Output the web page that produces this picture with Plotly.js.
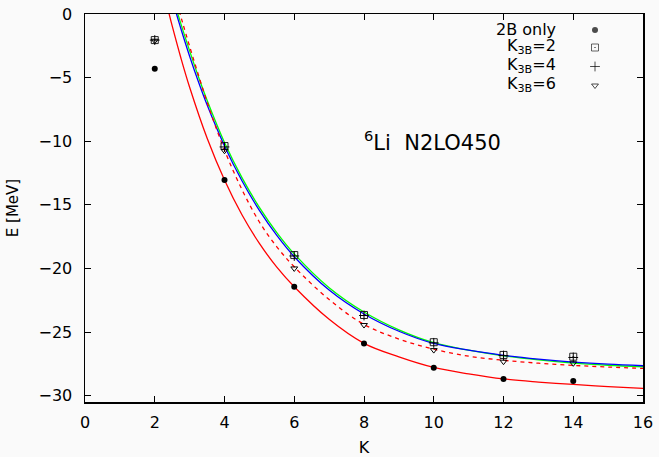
<!DOCTYPE html>
<html>
<head>
<meta charset="utf-8">
<script src="https://cdn.plot.ly/plotly-3.0.1.min.js"></script>
<style>
  html, body { margin: 0; padding: 0; background: #fafafa; }
  #chart { width: 659px; height: 457px; }
</style>
</head>
<body>
<div id="chart"></div>
<script>
// Hyperspherical-harmonics convergence of the 6Li ground-state energy (N2LO450)
const K_VALUES = [2, 4, 6, 8, 10, 12, 14];

// Computed energies [MeV]
const E_2B_ONLY = [-4.3, -13.05, -21.45, -25.9, -27.8, -28.7, -28.85];
const E_K3B_2   = [-2.05, -10.38, -18.95, -23.66, -25.8, -26.8, -26.94];
const E_K3B_4   = [-2.05, -10.45, -19.02, -23.7, -25.85, -26.85, -27.0];
const E_K3B_6   = [-2.1, -10.75, -20.0, -24.45, -26.42, -27.33, -27.46];

// Extrapolation curves, sampled along K
const FIT_2B_K = [2.4, 2.5, 2.75, 3, 3.5, 4, 4.5, 5, 5.5, 6, 7, 8, 9, 10, 11, 12, 13, 14, 15, 16];
const FIT_2B_E = [0.14, -0.94, -3.46, -5.76, -9.75, -13.05, -15.78, -18.03, -19.9, -21.44,
                  -24.0, -25.89, -26.95, -27.78, -28.29, -28.69, -28.93, -29.12, -29.29, -29.43];

const FIT_K3B2_K = [2.6, 2.75, 3, 3.25, 3.5, 4, 4.5, 5, 5.5, 6, 7, 8, 9, 10, 11, 12, 13, 14, 15, 16];
const FIT_K3B2_E = [0.22, -1.16, -3.32, -5.31, -7.14, -10.37, -13.11, -15.44, -17.41, -19.08,
                    -21.7, -23.58, -24.94, -25.9, -26.43, -26.83, -27.13, -27.36, -27.53, -27.65];

const FIT_K3B4_K = [2.6, 2.75, 3, 3.25, 3.5, 4, 4.5, 5, 5.5, 6, 7, 8, 9, 10, 11, 12, 13, 14, 15, 16];
const FIT_K3B4_E = [0.6, -0.78, -2.9, -4.92, -6.78, -10.1, -12.86, -15.2, -17.18, -18.86,
                    -21.52, -23.43, -24.83, -25.84, -26.43, -26.87, -27.19, -27.44, -27.61, -27.73];

const FIT_K3B6_K = [2.7, 2.8, 3, 3.35, 3.5, 4, 4.5, 5, 5.5, 6, 7, 8, 9, 10, 11, 12, 13, 14, 15, 16];
const FIT_K3B6_E = [0.25, -0.7, -2.55, -5.65, -6.92, -10.7, -13.8, -16.35, -18.3, -19.87,
                    -22.45, -24.4, -25.55, -26.35, -26.9, -27.22, -27.45, -27.62, -27.75, -27.86];

const SERIES_LABELS = ['2B only', 'K<sub>3B</sub>=2', 'K<sub>3B</sub>=4', 'K<sub>3B</sub>=6'];
const X_TICKS = [0, 2, 4, 6, 8, 10, 12, 14, 16];
const Y_TICKS = [-30, -25, -20, -15, -10, -5, 0];

const FONT = 'DejaVu Sans, sans-serif';
const INK = '#000000';

// Symbol styles per series
const SYMBOLS = [
  { symbol: 'circle', size: 6, color: INK, line: { width: 0 } },
  { symbol: 'square-open-dot', size: 7, color: '#222', line: { width: 1, color: '#222' } },
  { symbol: 'cross-thin-open', size: 7, color: INK, line: { width: 1, color: INK } },
  { symbol: 'triangle-down-open', size: 6, color: INK, line: { width: 1, color: INK } }
];

function fitLine(xs, ys, color, dash) {
  return {
    x: xs, y: ys, type: 'scatter', mode: 'lines', showlegend: false, hoverinfo: 'skip',
    line: { color: color, width: 1.3, dash: dash || 'solid', shape: 'spline', smoothing: 1 }
  };
}

function points(ys, i) {
  return {
    x: K_VALUES, y: ys, type: 'scatter', mode: 'markers', showlegend: false,
    marker: SYMBOLS[i], cliponaxis: false
  };
}

// Key block: labels right-aligned, symbol to the right (pixel frame of the plot area)
const KEY_TEXT_X = 558;
const KEY_SYMBOL_X = 595;
const KEY_ROWS_Y = [30, 47.5, 66.5, 85.5];
const KEY_TEXT_Y = [29.5, 46.5, 65.5, 84.5];

const traces = [
  fitLine(FIT_2B_K, FIT_2B_E, '#ff0000'),
  fitLine(FIT_K3B4_K, FIT_K3B4_E, '#00ff00'),
  fitLine(FIT_K3B2_K, FIT_K3B2_E, '#0000ff'),
  fitLine(FIT_K3B6_K, FIT_K3B6_E, '#ff0000', '4px,4px'),
  points(E_2B_ONLY, 0),
  points(E_K3B_2, 1),
  points(E_K3B_4, 2),
  points(E_K3B_6, 3),
  {
    x: SERIES_LABELS.map(() => KEY_SYMBOL_X), y: KEY_ROWS_Y,
    xaxis: 'x2', yaxis: 'y2', type: 'scatter', mode: 'markers', showlegend: false,
    marker: {
      symbol: SYMBOLS.map(s => s.symbol),
      size: SYMBOLS.map(s => s.size),
      color: SYMBOLS.map(s => s.color),
      line: { width: [0, 1, 1, 1], color: SYMBOLS.map(s => s.color) }
    }
  }
];

const axisCommon = {
  showline: true, linecolor: INK, linewidth: 1.5, mirror: 'ticks',
  ticks: 'inside', ticklen: 6, tickwidth: 1, tickcolor: INK,
  showgrid: false, zeroline: false,
  tickfont: { family: FONT, size: 16, color: INK }
};

const annotations = SERIES_LABELS.map((t, i) => ({
  text: t, xref: 'x2', yref: 'y2', x: KEY_TEXT_X, y: KEY_TEXT_Y[i],
  xanchor: 'right', yanchor: 'middle', showarrow: false,
  font: { family: FONT, size: 16, color: INK }
}));
annotations.push({
  text: '<sup>6</sup>Li\u00a0\u00a0N2LO450', xref: 'x', yref: 'y', x: 7.95, y: -10,
  xanchor: 'left', yanchor: 'middle', showarrow: false,
  font: { family: FONT, size: 21, color: INK }
});

const layout = {
  width: 659, height: 457,
  margin: { l: 85, r: 16, t: 14, b: 55, pad: 0 },
  paper_bgcolor: '#fafafa', plot_bgcolor: '#fafafa',
  showlegend: false,
  xaxis: Object.assign({}, axisCommon, {
    range: [0, 16], tickvals: X_TICKS, ticklabelstandoff: 5,
    title: { text: 'K', font: { family: FONT, size: 16, color: INK }, standoff: 12 }
  }),
  yaxis: Object.assign({}, axisCommon, {
    range: [-30.5, 0], tickvals: Y_TICKS, ticklabelstandoff: 8,
    title: { text: 'E [MeV]', font: { family: FONT, size: 15, color: INK }, standoff: 16 }
  }),
  xaxis2: { overlaying: 'x', anchor: 'y2', range: [85, 643], visible: false, fixedrange: true },
  yaxis2: { overlaying: 'y', anchor: 'x2', range: [402, 14], visible: false, fixedrange: true },
  annotations: annotations
};

Plotly.newPlot('chart', traces, layout, { staticPlot: true, displayModeBar: false });
</script>
</body>
</html>
